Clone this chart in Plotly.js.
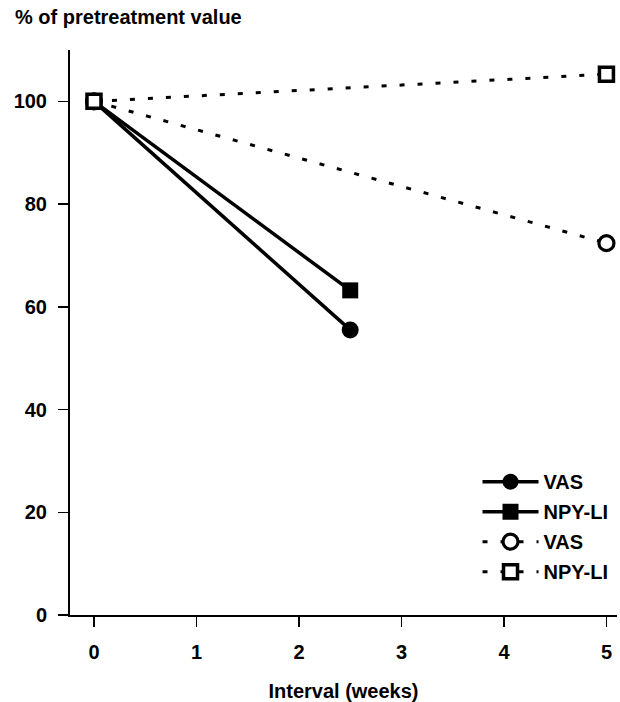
<!DOCTYPE html>
<html>
<head>
<meta charset="utf-8">
<script src="https://cdn.plot.ly/plotly-3.0.1.min.js"></script>
<style>html,body{margin:0;padding:0;background:#fff;}#chart{width:620px;height:702px;}</style>
</head>
<body>
<div id="chart"></div>
<script>
// Interval (weeks)
var weeksEarly = [0, 2.5];
var weeksLate = [0, 5];
// % of pretreatment value
var vasEarly = [100, 55.5];
var npyEarly = [100, 63.2];
var vasLate = [100, 72.4];
var npyLate = [100, 105.3];
var seriesNames = ["VAS", "NPY-LI", "VAS", "NPY-LI"];
var xTicks = [0, 1, 2, 3, 4, 5];
var yTicks = [0, 20, 40, 60, 80, 100];

var font = {family: "Liberation Sans, Arial, sans-serif", size: 20, color: "#000", weight: "bold"};

var traces = [
  {x: weeksEarly, y: vasEarly, name: seriesNames[0], mode: "lines+markers", legendgroup: "a",
   line: {color: "#000", width: 3.5}, marker: {symbol: "circle", size: 17, color: "#000"}},
  {x: weeksEarly, y: npyEarly, name: seriesNames[1], mode: "lines+markers", legendgroup: "b",
   line: {color: "#000", width: 3.5}, marker: {symbol: "square", size: 16, color: "#000"}},
  {x: weeksLate, y: vasLate, name: seriesNames[2], mode: "lines+markers", legendgroup: "c",
   line: {color: "#000", width: 3, dash: "5px,13px"},
   marker: {symbol: "circle", size: 15, color: "#fff", line: {width: 3.2, color: "#000"}}},
  {x: weeksLate, y: npyLate, name: seriesNames[3], mode: "lines+markers", legendgroup: "d",
   line: {color: "#000", width: 3, dash: "5px,13px"},
   marker: {symbol: "square", size: 14, color: "#fff", line: {width: 3.5, color: "#000"}}}
];

var layout = {
  width: 620, height: 702,
  margin: {l: 70, r: 3, t: 50, b: 87},
  paper_bgcolor: "#fff", plot_bgcolor: "#fff",
  font: font,
  showlegend: true,
  legend: {x: 0.745, y: 0.2705, xanchor: "left", yanchor: "top", bgcolor: "rgba(0,0,0,0)",
           font: font, itemwidth: 56, tracegroupgap: 1, itemsizing: "trace"},
  xaxis: {range: [-0.234, 5.103], tickvals: xTicks, ticktext: xTicks.map(String),
          showgrid: false, zeroline: false, showline: true, linecolor: "#000", linewidth: 2,
          ticks: "outside", ticklen: 10, tickwidth: 1.5, tickcolor: "#000", tickfont: font,
          ticklabelstandoff: 8,
          title: {text: "Interval (weeks)", font: font, standoff: 22}},
  yaxis: {range: [0, 110], tickvals: yTicks, ticktext: yTicks.map(String),
          showgrid: false, zeroline: false, showline: true, linecolor: "#000", linewidth: 2,
          ticks: "outside", ticklen: 10, tickwidth: 1.5, tickcolor: "#000", tickfont: font,
          ticklabelstandoff: 7},
  annotations: [
    {text: "% of pretreatment value", xref: "paper", yref: "paper", x: -0.105, y: 1.035,
     xanchor: "left", yanchor: "bottom", showarrow: false, font: font}
  ]
};

Plotly.newPlot("chart", traces, layout, {displayModeBar: false, staticPlot: true});
</script>
</body>
</html>
